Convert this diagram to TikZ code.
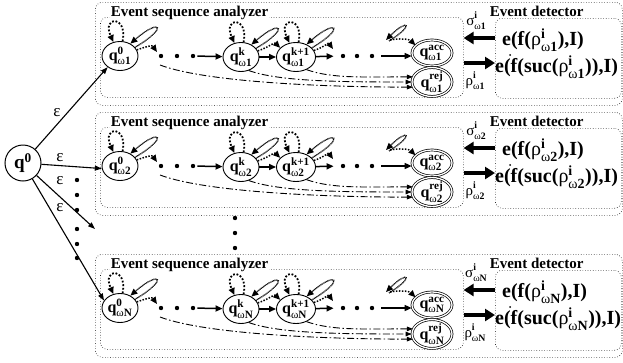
\documentclass[tikz,border=0pt]{standalone}
\usepackage{fontspec}
\usepackage{amsmath}
\setmainfont{Liberation Serif}
\usetikzlibrary{arrows.meta,calc,shapes.geometric}

% state label: bold q with a superscript and an omega subscript
\newcommand\qst[2]{\textbf{q}$^{\text{\textbf{#1}}}_{\text{ω\textbf{#2}}}$}
% symbol with superscript i and an omega subscript
\newcommand\gsym[2]{#1$^{\text{\textbf{i}}}_{\text{ω\textbf{#2}}}$}
% same, with the index set well apart, for the arrow labels
\newcommand\glab[2]{#1\rlap{\raisebox{7pt}{\fontsize{9.8}{10}\selectfont\textbf{i}}}%
  \raisebox{-4pt}{\fontsize{9.8}{10}\selectfont ω\textbf{#2}}}

\tikzset{
  dotbox/.style={draw, dotted, line width=0.6pt, rounded corners=7pt, inner sep=0pt, anchor=north west},
  boxtitle/.style={anchor=base west, fill=white, inner sep=0.6pt, font=\fontsize{15}{18}\selectfont\bfseries},
  state/.style={draw, ellipse, line width=0.9pt, minimum width=36pt, minimum height=29pt, inner sep=0pt, font=\fontsize{16}{18}\selectfont},
  final/.style={state, double, double distance=1.3pt, line width=0.7pt, minimum width=40pt, minimum height=26pt},
  start/.style={draw, circle, line width=1pt, minimum size=36pt, inner sep=0pt, font=\fontsize{19}{20}\selectfont},
  dot/.style={circle, fill, minimum size=4.4pt, inner sep=0pt},
  tipa/.style={-{Triangle[length=7pt,width=6pt]}},
  trans/.style={tipa, line width=1.5pt},
  selfloop/.style={tipa, line width=1.8pt, dash pattern=on 1.8pt off 1.8pt},
  tear/.style={tipa, line width=1.3pt, dash pattern=on 0.7pt off 0.6pt},
  stepdots/.style={tipa, line width=1.5pt, dash pattern=on 1.5pt off 1.5pt},
  reject/.style={-{Triangle[length=6pt,width=4.5pt]}, line width=0.9pt, dash pattern=on 7pt off 2.5pt on 1.5pt off 2.5pt},
  bigarrow/.style={-{Triangle[length=10pt,width=12pt]}, line width=4pt},
  epsedge/.style={-{Triangle[length=7pt,width=5pt]}, line width=1.1pt},
  epslabel/.style={font=\fontsize{17}{18}\selectfont, inner sep=0pt},
  siglabel/.style={font=\fontsize{15}{16}\selectfont, inner sep=0pt},
  edtext/.style={anchor=west, inner sep=0pt, font=\fontsize{20}{22}\selectfont},
}

% dotted self loop and narrow teardrop loop on top of a state
\newcommand\nodeloops[1]{%
  \draw[selfloop] (#1.80) .. controls +(5,-27) and +(-12,-26) .. (#1.115);
  \draw[tear] (#1.30) .. controls +(34,-20) and +(30,-26) .. (#1.50);
}

% one analyzer / detector pair: #1 name suffix, #2 vertical offset, #3 index
\newcommand\fsmrow[3]{%
\begin{scope}[shift={(0,#2)}]
  \node[dotbox, minimum width=527pt, minimum height=103pt] (outer#1) at (95,2) {};
  \node[dotbox, minimum width=363pt, minimum height=80pt] (esa#1) at (100,17) {};
  \node[dotbox, minimum width=126pt, minimum height=80pt] (ed#1) at (495,18) {};
  \node[boxtitle] (esat#1) at (110,16) {Event sequence analyzer};
  \node[boxtitle] (edt#1) at (489,16) {Event detector};
  % states
  \node[state] (q0#1) at (120,56) {\qst{0}{#3}};
  \node[dot] (d1#1) at (161,56) {};
  \node[dot] (d2#1) at (177,56) {};
  \node[dot] (d3#1) at (193,56) {};
  \node[state] (qk#1) at (241,57) {\qst{k}{#3}};
  \node[state] (qn#1) at (296,57) {\qst{k+1}{#3}};
  \node[dot] (d4#1) at (343,56) {};
  \node[dot] (d5#1) at (357,56) {};
  \node[dot] (d6#1) at (372,56) {};
  \node[final] (acc#1) at (432,53) {\qst{acc}{#3}};
  \node[final] (rej#1) at (432,82) {\qst{rej}{#3}};
  % solid transitions
  \draw[trans, shorten <=2pt] (d3#1) -- (qk#1);
  \draw[trans] (qk#1) -- (qn#1);
  \draw[trans, shorten >=7pt] (qn#1) -- (d4#1);
  \draw[trans, shorten <=7pt] (d6#1) -- (acc#1.west |- d6#1);
  % loops and dotted steps
  \nodeloops{q0#1}
  \nodeloops{qk#1}
  \nodeloops{qn#1}
  \coordinate (t1#1) at (157,52);
  \draw[stepdots] (q0#1.20) .. controls +(12,-4) and +(-5,-7) .. (t1#1);
  \draw[stepdots] (qk#1.20) .. controls +(12,-4) and +(-6,-6) .. (qn#1.150);
  \coordinate (t2#1) at (333,49);
  \draw[stepdots] (qn#1.20) .. controls +(12,-4) and +(-5,-7) .. (t2#1);
  \coordinate (fb#1) at (386,40);
  \draw[tear] ($(fb#1)+(3,1)$) .. controls +(26,-16) and +(22,-22) .. (fb#1);
  \draw[stepdots] ($(fb#1)+(4,0)$) .. controls +(10,-2) and +(-6,-6) .. (acc#1.155);
  % rejecting transitions
  \coordinate (dd#1) at (160,65);
  \draw[reject] (dd#1) .. controls +(45,17) and +(-90,0) .. (rej#1.195);
  \draw[reject] (qk#1.300) .. controls +(30,11) and +(-70,0) .. (rej#1.west);
  \draw[reject] (qn#1.310) .. controls +(25,9) and +(-50,0) .. (rej#1.165);
  % exchange with the event detector
  \coordinate (sy#1) at (0,38);
  \coordinate (ry#1) at (0,63);
  \draw[bigarrow] (ed#1.west |- sy#1) -- (esa#1.east |- sy#1);
  \draw[bigarrow] (esa#1.east |- ry#1) -- (ed#1.west |- ry#1);
  \node[siglabel] (sl#1) at (476,21) {\glab{σ}{#3}};
  \node[siglabel] (rl#1) at (475,81) {\glab{ρ}{#3}};
  \node[edtext] (ea#1) at (502,40) {\textbf{e(f(}\gsym{ρ}{#3}\textbf{),I)}};
  \node[edtext] (eb#1) at (495,67) {\textbf{e(f(suc(}\gsym{ρ}{#3}\textbf{)),I)}};
  \fill (510,55) circle (1pt);
\end{scope}}

\begin{document}
\begin{tikzpicture}[x=1pt,y=-1pt]
\useasboundingbox (0,0) rectangle (623,362);
\fsmrow{a}{0}{1}
\fsmrow{b}{110}{2}
\fsmrow{c}{252}{N}
% common initial state
\node[start] (q0) at (23,163) {\textbf{q}$^{\text{\textbf{0}}}$};
\coordinate (emid) at (95,229);
\draw[epsedge] (q0) -- (q0a.222);
\draw[epsedge] (q0) -- (q0b.188);
\draw[epsedge] (q0) -- (emid);
\draw[epsedge] (q0) -- (q0c.155);
\node[epslabel] (la) at (57,113) {ε};
\node[epslabel] (lb) at (60,158) {ε};
\node[epslabel] (lc) at (60,181) {ε};
\node[epslabel] (ld) at (60,208) {ε};
\foreach \yy [count=\i] in {180,195,210,229,244,258} \node[dot] (vd\i) at (77,\yy) {};
\foreach \yy [count=\i] in {218,233,248} \node[dot] (md\i) at (235,\yy) {};
\end{tikzpicture}
\end{document}
